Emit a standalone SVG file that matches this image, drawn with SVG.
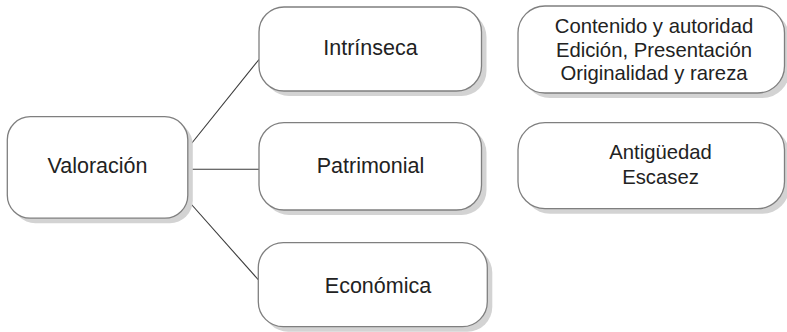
<svg xmlns="http://www.w3.org/2000/svg" width="787" height="332" viewBox="0 0 787 332">
<style>
.sh{fill:#d3d3d3;stroke:none}
.bx{fill:#ffffff;stroke:#7f7f7f;stroke-width:1.3}
.t{font-family:"Liberation Sans",Arial,sans-serif;font-size:21.5px;fill:#222222;text-anchor:middle}
.s{font-family:"Liberation Sans",Arial,sans-serif;font-size:20.3px;fill:#222222;text-anchor:middle}
.ln{stroke:#3a3a3a;stroke-width:1.1;fill:none}
</style>
<rect width="787" height="332" fill="#ffffff"/>
<g id="connectors">
<line class="ln" x1="191.5" y1="143.5" x2="259" y2="59.5"/>
<line class="ln" x1="188" y1="169.3" x2="259" y2="169.3"/>
<line class="ln" x1="191.5" y1="204.5" x2="258.5" y2="280"/>
</g>
<g id="valoracion">
<rect class="sh" x="12.3" y="121.7" width="180.5" height="101.5" rx="23"/>
<rect class="bx" x="7.3" y="116.7" width="180.5" height="101.5" rx="23"/>
<text class="t" x="97.5" y="172.7">Valoración</text>
</g>
<g id="intrinseca">
<rect class="sh" x="264" y="12" width="222.5" height="84" rx="25"/>
<rect class="bx" x="259" y="7" width="222.5" height="84" rx="25"/>
<text class="t" x="370.5" y="55">Intrínseca</text>
</g>
<g id="patrimonial">
<rect class="sh" x="264" y="127.7" width="222.5" height="87.3" rx="25"/>
<rect class="bx" x="259" y="122.7" width="222.5" height="87.3" rx="25"/>
<text class="t" x="370.5" y="172.7">Patrimonial</text>
</g>
<g id="economica">
<rect class="sh" x="263.3" y="247.7" width="229" height="84" rx="25"/>
<rect class="bx" x="258.3" y="242.7" width="229" height="84" rx="25"/>
<text class="t" x="378" y="293.3">Económica</text>
</g>
<g id="contenido">
<rect class="sh" x="523" y="11" width="266.5" height="87" rx="27"/>
<rect class="bx" x="518" y="6" width="266.5" height="87" rx="27"/>
<text class="s" x="654" y="32.5">Contenido y autoridad</text>
<text class="s" x="654" y="56.5">Edición, Presentación</text>
<text class="s" x="654" y="80">Originalidad y rareza</text>
</g>
<g id="antiguedad">
<rect class="sh" x="523" y="127.7" width="266.5" height="86" rx="27"/>
<rect class="bx" x="518" y="122.7" width="266.5" height="86" rx="27"/>
<text class="s" x="660.5" y="158.7">Antigüedad</text>
<text class="s" x="660.5" y="184.3">Escasez</text>
</g>
</svg>
